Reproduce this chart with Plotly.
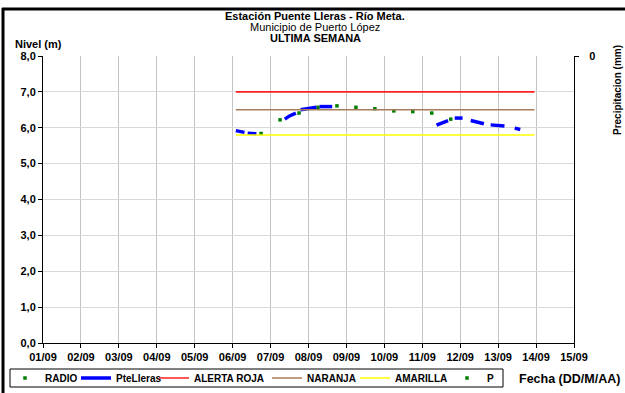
import plotly.graph_objects as go

# ---- data ----
radio_t = ["2014-09-06 18:00", "2014-09-07 06:00", "2014-09-07 18:00", "2014-09-08 06:00",
           "2014-09-08 18:00", "2014-09-09 06:00", "2014-09-09 18:00", "2014-09-10 06:00",
           "2014-09-10 18:00", "2014-09-11 06:00", "2014-09-11 18:00"]
radio_v = [5.84, 6.22, 6.41, 6.57, 6.61, 6.57, 6.53, 6.47, 6.45, 6.41, 6.24]

ptelleras_t = ["2014-09-06 02:00", "2014-09-06 05:00", "2014-09-06 07:30", None,
               "2014-09-06 09:30", "2014-09-06 12:00", "2014-09-06 15:00", None,
               "2014-09-07 09:00", "2014-09-07 12:00", "2014-09-07 16:00", None,
               "2014-09-07 19:00", "2014-09-08 00:00", "2014-09-08 05:00", None,
               "2014-09-08 07:00", "2014-09-08 11:00", "2014-09-08 15:00", None,
               "2014-09-11 09:00", "2014-09-11 12:30", "2014-09-11 16:20", None,
               "2014-09-11 20:30", "2014-09-12 01:30", None,
               "2014-09-12 06:40", "2014-09-12 11:00", "2014-09-12 15:00", None,
               "2014-09-12 19:15", "2014-09-13 00:00", "2014-09-13 04:00", None,
               "2014-09-13 10:30", "2014-09-13 14:00"]
ptelleras_v = [5.92, 5.89, 5.87, None,
               5.85, 5.84, 5.83, None,
               6.24, 6.33, 6.41, None,
               6.50, 6.54, 6.57, None,
               6.59, 6.59, 6.59, None,
               6.07, 6.14, 6.20, None,
               6.27, 6.27, None,
               6.20, 6.16, 6.11, None,
               6.08, 6.06, 6.05, None,
               5.99, 5.95]

umbral_t = ["2014-09-06 02:00", "2014-09-13 23:00"]
alerta_roja = [7.0, 7.0]
naranja = [6.5, 6.5]
amarilla = [5.8, 5.8]

p_t = ["2014-09-06 18:00"]
p_v = [None]

tick_days = ["2014-09-%02d" % d for d in range(1, 16)]
tick_text = ["%02d/09" % d for d in range(1, 16)]

# ---- figure ----
W, H = 625, 393
L, R, T, B = 43, 51, 56, 50
pw, ph = W - L - R, H - T - B

def px(x):
    return (x - L) / pw

def py(y):
    return (H - B - y) / ph

FONT = "Liberation Sans, Arial, sans-serif"
GREEN = "#008000"

fig = go.Figure()
fig.add_trace(go.Scatter(x=radio_t, y=radio_v, mode="markers", name="RADIO", legend="legend",
                         marker=dict(color=GREEN, size=3.5, symbol="square")))
fig.add_trace(go.Scatter(x=ptelleras_t, y=ptelleras_v, mode="lines", name="PteLleras", legend="legend2",
                         line=dict(color="#0000FF", width=3.5), connectgaps=False))
fig.add_trace(go.Scatter(x=umbral_t, y=alerta_roja, mode="lines", name="ALERTA ROJA", legend="legend3",
                         line=dict(color="#FF2020", width=1.6)))
fig.add_trace(go.Scatter(x=umbral_t, y=naranja, mode="lines", name="NARANJA", legend="legend4",
                         line=dict(color="#A87C5A", width=1.6)))
fig.add_trace(go.Scatter(x=umbral_t, y=amarilla, mode="lines", name="AMARILLA", legend="legend5",
                         line=dict(color="#FFFF00", width=1.6)))
fig.add_trace(go.Scatter(x=p_t, y=p_v, mode="markers", name="P", yaxis="y2", legend="legend6",
                         marker=dict(color=GREEN, size=3.5, symbol="square")))

def leg(text_x):
    return dict(orientation="h", xref="container", yref="container",
                x=(text_x - 42) / W, y=(H - 378) / H, xanchor="left", yanchor="middle",
                borderwidth=0, bgcolor="rgba(0,0,0,0)",
                font=dict(family=FONT, size=10, color="black", weight="bold"))

fig.update_layout(
    width=W, height=H,
    margin=dict(l=L, r=R, t=T, b=B),
    paper_bgcolor="white", plot_bgcolor="white",
    separators=",.",
    font=dict(family=FONT, size=11, color="black"),
    showlegend=True,
    legend=leg(47), legend2=leg(118), legend3=leg(196),
    legend4=leg(309), legend5=leg(397), legend6=leg(489),
    xaxis=dict(type="date", range=["2014-09-01", "2014-09-15"],
               tickvals=tick_days, ticktext=tick_text,
               showgrid=True, gridcolor="#C4C4C4", gridwidth=1,
               showline=True, linecolor="black", linewidth=1,
               ticks="outside", ticklen=4, tickcolor="black",
               tickfont=dict(family=FONT, size=11, weight="bold"),
               zeroline=False, automargin=False),
    yaxis=dict(range=[0, 8], tickvals=[0, 1, 2, 3, 4, 5, 6, 7, 8], tickformat=".1f",
               showgrid=True, gridcolor="#D8D8D8", gridwidth=1,
               showline=True, linecolor="black", linewidth=1,
               ticks="outside", ticklen=4, tickcolor="black",
               tickfont=dict(family=FONT, size=11, weight="bold"),
               zeroline=False, automargin=False),
    yaxis2=dict(overlaying="y", side="right", range=[1, 0], tickvals=[0],
                showgrid=False, showline=True, linecolor="black", linewidth=1,
                ticks="outside", ticklen=4, tickcolor="black", ticklabelstandoff=8,
                tickfont=dict(family=FONT, size=11, weight="bold"),
                zeroline=False, automargin=False),
)

ann = [
    dict(text="<b>Estación Puente Lleras - Río Meta.</b>", x=px(315), y=py(16), size=11),
    dict(text="Municipio de Puerto López", x=px(315), y=py(27), size=11),
    dict(text="<b>ULTIMA SEMANA</b>", x=px(315), y=py(38), size=11),
    dict(text="<b>Nivel (m)</b>", x=px(38), y=py(44), size=11),
    dict(text="<b>Fecha (DD/M/AA)</b>", x=px(569), y=py(379), size=12.5),
]
for a in ann:
    fig.add_annotation(text=a["text"], x=a["x"], y=a["y"], xref="paper", yref="paper",
                       showarrow=False, xanchor="center", yanchor="middle",
                       font=dict(family=FONT, size=a["size"], color="black"))
fig.add_annotation(text="<b>Precipitacion (mm)</b>", x=px(617), y=py(90), xref="paper", yref="paper",
                   showarrow=False, textangle=-90, xanchor="center", yanchor="middle",
                   font=dict(family=FONT, size=10, color="black"))

# legend frame
fig.add_shape(type="rect", xref="paper", yref="paper", x0=px(10), x1=px(503), y0=py(369), y1=py(387),
              line=dict(color="black", width=1), fillcolor="rgba(0,0,0,0)", layer="above")
# outer frame
fig.add_shape(type="line", xref="paper", yref="paper", x0=px(2), x1=px(630), y0=py(9), y1=py(9),
              line=dict(color="black", width=3))
fig.add_shape(type="line", xref="paper", yref="paper", x0=px(3), x1=px(3), y0=py(8), y1=py(400),
              line=dict(color="black", width=3))

fig.write_html("out.html", config={"displayModeBar": False},
               post_script="document.body.style.margin='0';")
